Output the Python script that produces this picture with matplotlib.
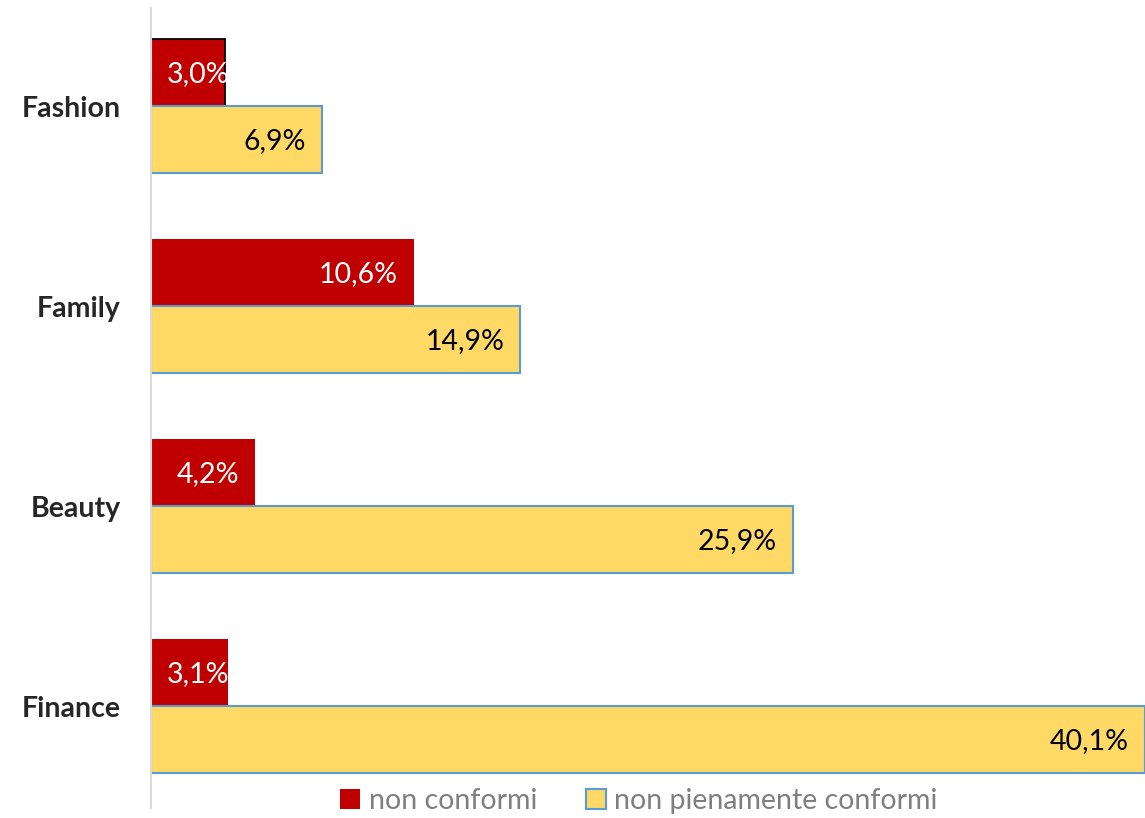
import numpy as np
import matplotlib
matplotlib.use("Agg")
import matplotlib.pyplot as plt
from matplotlib.patches import Patch

plt.rcParams['font.family'] = ['Lato', 'DejaVu Sans']

# Dati
categorie = ["Fashion", "Family", "Beauty", "Finance"]
non_conformi = [3.0, 10.6, 4.2, 3.1]
non_pienamente = [6.9, 14.9, 25.9, 40.1]

rosso = "#C00000"
giallo = "#FFD966"
bordo = "#5B9BD5"
fs = 20.5

fig = plt.figure(figsize=(11.45, 8.18), dpi=100)
ax = plt.axes([0.1319, 0.0122, 0.8681, 0.978])

y = np.arange(len(categorie))
h = 0.335

b1 = ax.barh(y - h/2, non_conformi, height=h, color=rosso, edgecolor="none", zorder=2)
b2 = ax.barh(y + h/2, non_pienamente, height=h, color=giallo, edgecolor=bordo, linewidth=1.5, zorder=2)
# bordo nero sulla prima barra rossa
b1[0].set_edgecolor("black")
b1[0].set_linewidth(1.3)

def fmt(v):
    return f"{v:.1f}%".replace(".", ",")

def etichetta(v, yy, colore):
    # etichetta interna all'estremo; se la barra e' corta parte da sinistra
    if v < 3.9:
        ax.text(0.65, yy, fmt(v), ha="left", va="center", color=colore, fontsize=fs, zorder=3)
    else:
        ax.text(v - 0.65, yy, fmt(v), ha="right", va="center", color=colore, fontsize=fs, zorder=3)

for i, v in enumerate(non_conformi):
    etichetta(v, y[i] - h/2 + 0.01, "white")
for i, v in enumerate(non_pienamente):
    etichetta(v, y[i] + h/2 + 0.01, "black")

ax.set_xlim(0, 40.1)
ax.set_ylim(3.51, -0.49)
ax.set_yticks(y)
ax.set_yticklabels(categorie, fontsize=fs, fontweight="bold", color="#262626")
ax.tick_params(axis="y", length=0, pad=22)
ax.set_xticks([])
for s in ["top", "right", "bottom"]:
    ax.spines[s].set_visible(False)
ax.spines["left"].set_color("#D9D9D9")
ax.spines["left"].set_linewidth(1.5)

handles = [Patch(facecolor=rosso, edgecolor="none"),
           Patch(facecolor=giallo, edgecolor=bordo, linewidth=1.5)]
fig.legend(handles, ["non conformi", "non pienamente conformi"],
           loc="center", bbox_to_anchor=(0.558, 0.021), ncol=2, frameon=False,
           fontsize=fs, labelcolor="#7F7F7F", handlelength=0.7, handleheight=0.7,
           handletextpad=0.3, columnspacing=1.7)

fig.savefig("out.png", dpi=100)
